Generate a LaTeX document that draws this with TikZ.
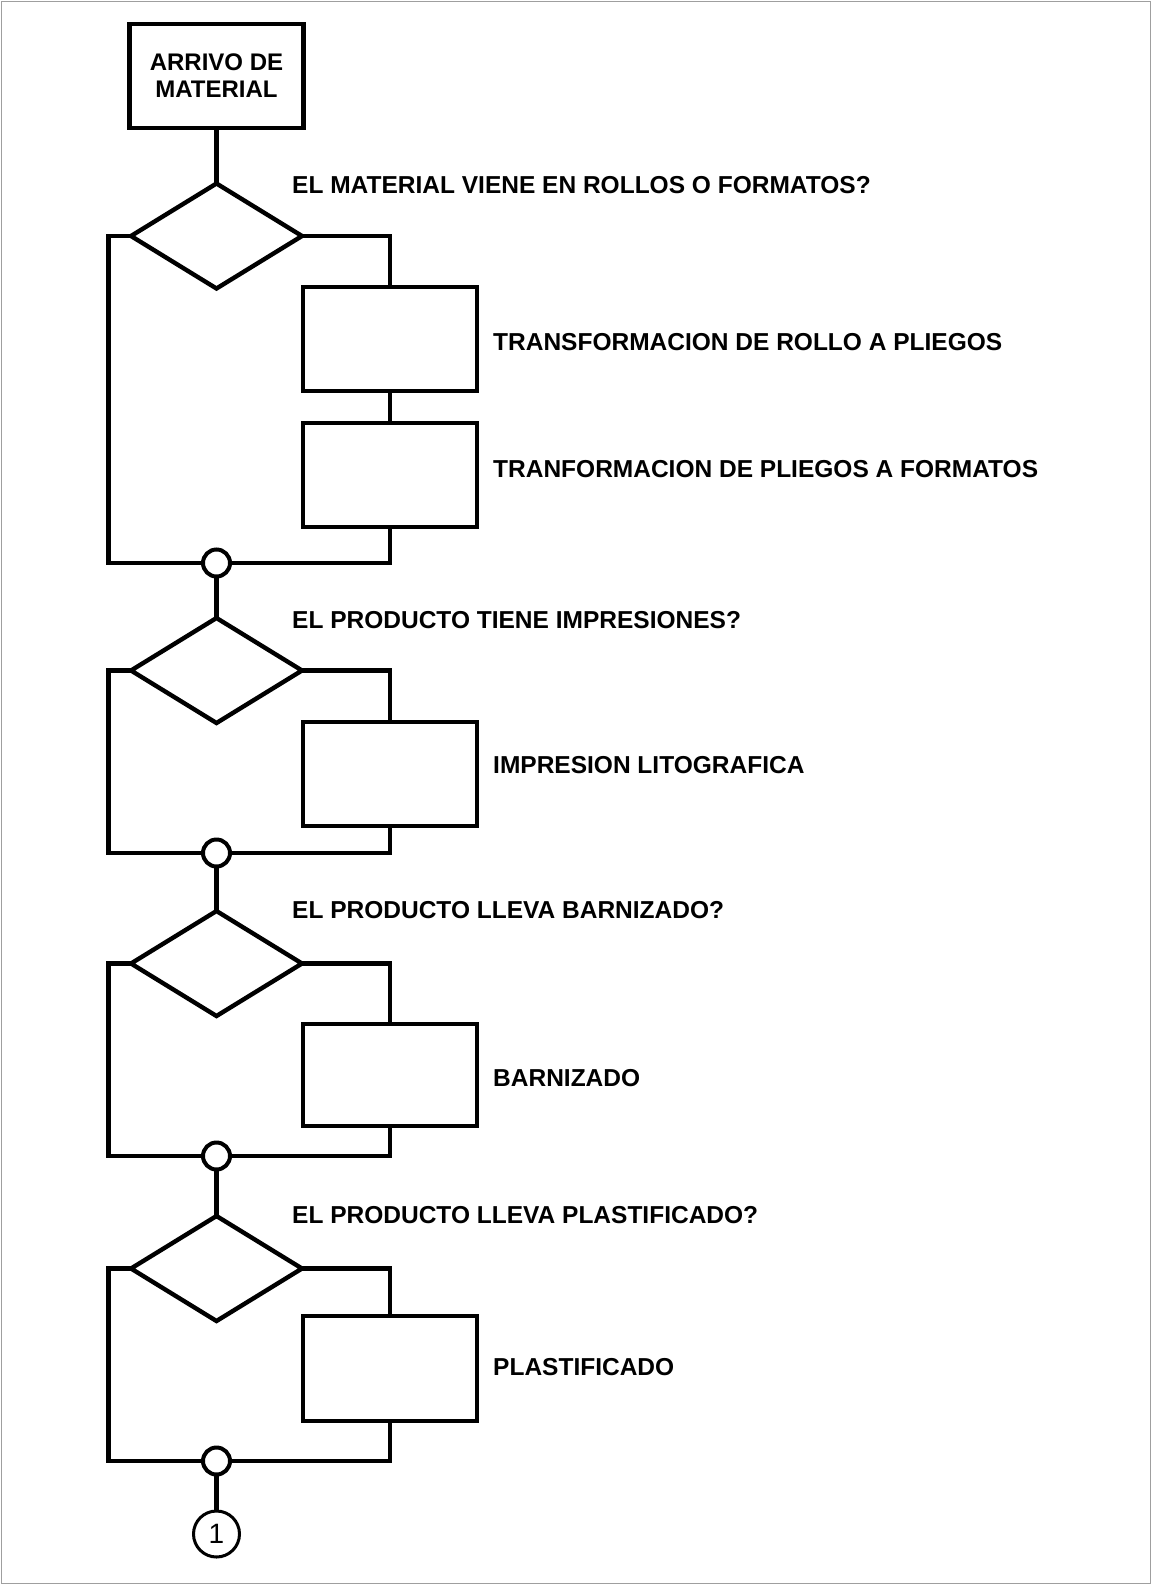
\documentclass[tikz,border=0pt]{standalone}
\usepackage{fontspec}
\setmainfont{Liberation Sans}
\usetikzlibrary{shapes.geometric}
\begin{document}
\begin{tikzpicture}[x=1pt,y=-1pt,
  wire/.style={draw=black, line width=4.4pt, line join=miter},
  procbox/.style={draw=black, line width=4.4pt, rectangle, minimum width=174pt, minimum height=#1, inner sep=0pt, outer sep=0pt, fill=white},
  decision/.style={draw=black, line width=4.4pt, diamond, minimum width=171pt, minimum height=105pt, inner sep=0pt, outer sep=0pt, fill=white},
  junction/.style={draw=black, line width=4pt, circle, minimum size=27pt, inner sep=0pt, outer sep=0pt, fill=white},
  offpage/.style={draw=black, line width=3pt, circle, minimum size=46pt, inner sep=0pt, outer sep=0pt, fill=white, font=\fontsize{28}{30}\selectfont},
  qtext/.style={anchor=base west, inner sep=0pt, font=\bfseries\fontsize{24.5}{28}\selectfont}
]
\useasboundingbox (0,0) rectangle (1152,1585);
\draw[gray!75, line width=1.5pt] (1.5,1.5) rectangle (1150.5,1583.5);

% nodes
\node[procbox=104pt, align=center, font=\bfseries\fontsize{24}{27}\selectfont] (start) at (216.5,76) {ARRIVO DE\\MATERIAL};
\node[decision] (d1) at (216.5,236) {};
\node[procbox=104pt] (b1) at (390,339) {};
\node[procbox=104pt] (b2) at (390,475) {};
\node[junction] (m1) at (216.5,563) {};
\node[decision] (d2) at (216.5,670.5) {};
\node[procbox=104pt] (b3) at (390,774) {};
\node[junction] (m2) at (216.5,853) {};
\node[decision] (d3) at (216.5,963.5) {};
\node[procbox=102pt] (b4) at (390,1075) {};
\node[junction] (m3) at (216.5,1156) {};
\node[decision] (d4) at (216.5,1268.5) {};
\node[procbox=105pt] (b5) at (390,1368.5) {};
\node[junction] (m4) at (216.5,1461) {};
\node[offpage] (c1) at (216.5,1534) {1};

% connectors
\draw[wire] (start.south) -- (d1.north);
\draw[wire] (d1.west) -- ++(-22.5,0) |- (m1.west);
\draw[wire] (d1.east) -| (b1.north);
\draw[wire] (b1.south) -- (b2.north);
\draw[wire] (b2.south) |- (m1.east);
\draw[wire] (m1.south) -- (d2.north);
\draw[wire] (d2.west) -- ++(-22.5,0) |- (m2.west);
\draw[wire] (d2.east) -| (b3.north);
\draw[wire] (b3.south) |- (m2.east);
\draw[wire] (m2.south) -- (d3.north);
\draw[wire] (d3.west) -- ++(-22.5,0) |- (m3.west);
\draw[wire] (d3.east) -| (b4.north);
\draw[wire] (b4.south) |- (m3.east);
\draw[wire] (m3.south) -- (d4.north);
\draw[wire] (d4.west) -- ++(-22.5,0) |- (m4.west);
\draw[wire] (d4.east) -| (b5.north);
\draw[wire] (b5.south) |- (m4.east);
\draw[wire] (m4.south) -- (c1.north);

% labels
\node[qtext] (q1) at (292,193) {EL MATERIAL VIENE EN ROLLOS O FORMATOS?};
\node[qtext] (t1) at (493,350) {TRANSFORMACION DE ROLLO A PLIEGOS};
\node[qtext] (t2) at (493,477) {TRANFORMACION DE PLIEGOS A FORMATOS};
\node[qtext] (q2) at (292,628) {EL PRODUCTO TIENE IMPRESIONES?};
\node[qtext] (t3) at (493,773) {IMPRESION LITOGRAFICA};
\node[qtext] (q3) at (292,918) {EL PRODUCTO LLEVA BARNIZADO?};
\node[qtext] (t4) at (493,1086) {BARNIZADO};
\node[qtext] (q4) at (292,1223) {EL PRODUCTO LLEVA PLASTIFICADO?};
\node[qtext] (t5) at (493,1375) {PLASTIFICADO};
\end{tikzpicture}
\end{document}
